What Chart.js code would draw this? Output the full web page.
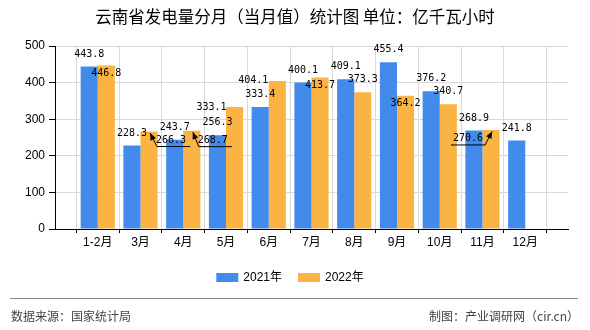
<!DOCTYPE html>
<html>
<head>
<meta charset="utf-8">
<script src="https://cdn.jsdelivr.net/npm/chart.js@4.4.1/dist/chart.umd.min.js"></script>
<style>
  html, body { margin: 0; padding: 0; background: #fff; }
  canvas { display: block; }
</style>
</head>
<body>
<canvas id="chart" width="590" height="330"></canvas>
<script>
// data
const months = ['1-2月', '3月', '4月', '5月', '6月', '7月', '8月', '9月', '10月', '11月', '12月'];
const seriesNames = ['2021年', '2022年'];
const values2021 = [443.8, 228.3, 243.7, 256.3, 333.4, 400.1, 409.1, 455.4, 376.2, 268.9, 241.8];
const values2022 = [446.8, 266.3, 268.7, 333.1, 404.1, 413.7, 373.3, 364.2, 340.7, 270.6, null];
const yTicks = [0, 100, 200, 300, 400, 500];

const titleText = '云南省发电量分月（当月值）统计图 单位：亿千瓦小时';
const sourceText = '数据来源：国家统计局';
const creditText = '制图：产业调研网（cir.cn）';

const BLUE = '#428BEC';
const ORANGE = '#FBB344';
const CJK = '"Noto Sans CJK SC", sans-serif';
const SANS = '"Liberation Sans", "Noto Sans CJK SC", sans-serif';

// crowded value labels get pushed aside: "dataset-month": [dx, dy, arrow]
const nudges = {
  '1-0': [0, 20],
  '1-1': [22, 21, true],
  '1-2': [21, 22, true],
  '1-3': [-23, 13],
  '1-4': [-24, 12],
  '1-5': [0, 20],
  '1-7': [0, 20],
  '1-9': [-23, 21, true]
};

// the axis has an empty slot at each end, bars sit on the inner ticks
const labels = [''].concat(months, ['']);
const pad = arr => [null].concat(arr, [null]);

function drawArrow(ctx, bar, lx, ly, w, side) {
  const uy = ly + 6.5;
  const near = side > 0 ? lx - w / 2 + 1 : lx + w / 2 + 2;
  const far = side > 0 ? lx + w / 2 + 4 : lx - w / 2 - 2;
  const tx = bar.x + 1, ty = bar.y + 1.5;
  ctx.beginPath();
  ctx.moveTo(far, uy);
  ctx.lineTo(near, uy);
  ctx.lineTo(tx, ty);
  ctx.stroke();
  const a = Math.atan2(ty - uy, tx - near);
  const L = 7, W = 3;
  ctx.beginPath();
  ctx.moveTo(tx, ty);
  ctx.lineTo(tx - L * Math.cos(a) + W * Math.sin(a), ty - L * Math.sin(a) - W * Math.cos(a));
  ctx.lineTo(tx - L * Math.cos(a) - W * Math.sin(a), ty - L * Math.sin(a) + W * Math.cos(a));
  ctx.closePath();
  ctx.fill();
}

const decor = {
  id: 'decor',
  afterDatasetsDraw(chart) {
    const ctx = chart.ctx;
    ctx.save();
    ctx.font = '10px "DejaVu Sans Mono", monospace';
    ctx.fillStyle = '#000';
    ctx.strokeStyle = '#000';
    ctx.lineWidth = 1;
    ctx.textAlign = 'center';
    ctx.textBaseline = 'middle';
    chart.data.datasets.forEach((ds, d) => {
      chart.getDatasetMeta(d).data.forEach((bar, k) => {
        const v = ds.data[k];
        if (v == null) return;
        const n = nudges[d + '-' + (k - 1)] || [0, 0, false];
        const txt = v.toFixed(1);
        const lx = bar.x + n[0], ly = bar.y - 12.5 + n[1];
        ctx.fillText(txt, lx, ly);
        if (n[2]) drawArrow(ctx, bar, lx, ly, ctx.measureText(txt).width, Math.sign(n[0]));
      });
    });
    ctx.restore();
  },
  afterDraw(chart) {
    const ctx = chart.ctx;
    ctx.save();
    // title
    ctx.fillStyle = '#000';
    ctx.font = '16.5px ' + CJK;
    ctx.textAlign = 'center';
    ctx.textBaseline = 'middle';
    ctx.fillText(titleText, 295, 17);

    // legend
    ctx.font = '12px ' + SANS;
    ctx.textAlign = 'left';
    const items = chart.data.datasets.map(ds => ({ text: ds.label, color: ds.backgroundColor }));
    const widths = items.map(it => 22 + 5 + ctx.measureText(it.text).width);
    const total = widths.reduce((a, b) => a + b, 0) + 16 * (items.length - 1);
    let x = 290 - total / 2;
    items.forEach((it, i) => {
      ctx.fillStyle = it.color;
      ctx.fillRect(x, 273, 22, 9);
      ctx.fillStyle = '#000';
      ctx.fillText(it.text, x + 27, 278);
      x += widths[i] + 16;
    });

    // separator and footer
    ctx.strokeStyle = '#888';
    ctx.lineWidth = 1;
    ctx.beginPath();
    ctx.moveTo(10, 298.5);
    ctx.lineTo(578, 298.5);
    ctx.stroke();
    ctx.fillStyle = '#444';
    ctx.font = '12px ' + CJK;
    ctx.textAlign = 'left';
    ctx.fillText(sourceText, 11, 316);
    ctx.textAlign = 'right';
    ctx.fillText(creditText, 579, 316);
    ctx.restore();
  }
};

new Chart(document.getElementById('chart'), {
  type: 'bar',
  data: {
    labels: labels,
    datasets: [
      { label: seriesNames[0], data: pad(values2021), backgroundColor: BLUE },
      { label: seriesNames[1], data: pad(values2022), backgroundColor: ORANGE }
    ]
  },
  options: {
    responsive: false,
    animation: false,
    devicePixelRatio: 1,
    layout: { padding: { left: 0, right: 22, top: 46, bottom: 77 } },
    datasets: { bar: { categoryPercentage: 0.8, barPercentage: 1, borderWidth: 0 } },
    plugins: { legend: { display: false }, title: { display: false }, tooltip: { enabled: false } },
    scales: {
      x: {
        offset: false,
        afterFit: s => { s.height = 24; },
        grid: { color: '#d9d9d9', tickColor: '#000', tickLength: 4 },
        border: { color: '#000' },
        ticks: { autoSkip: false, maxRotation: 0, padding: 2, color: '#000', font: { size: 12, family: SANS } }
      },
      y: {
        min: yTicks[0],
        max: yTicks[yTicks.length - 1],
        afterFit: s => { s.width = 55; },
        afterBuildTicks: s => { s.ticks = yTicks.map(v => ({ value: v })); },
        grid: { color: '#d9d9d9', tickColor: '#000', tickLength: 6 },
        border: { color: '#000' },
        ticks: { padding: 4, color: '#000', font: { size: 12, family: SANS } }
      }
    }
  },
  plugins: [decor]
});
</script>
</body>
</html>
